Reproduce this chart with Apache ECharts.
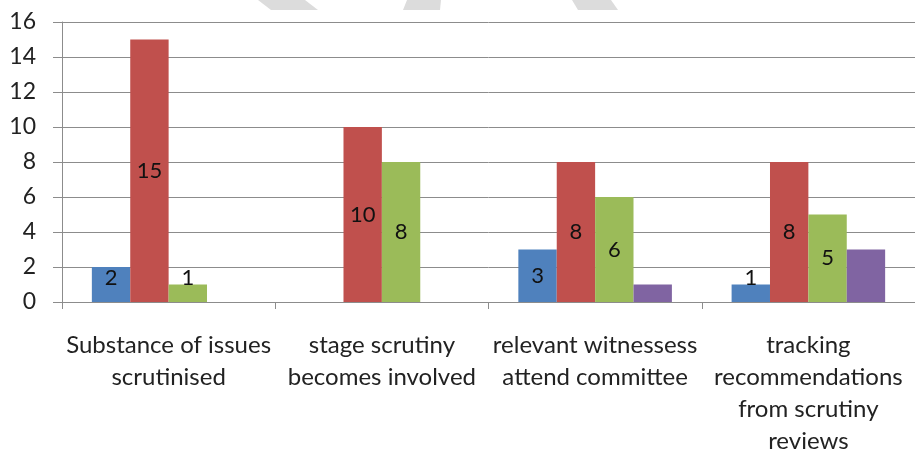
<!DOCTYPE html>
<html>
<head>
<meta charset="utf-8">
<script src="https://cdn.jsdelivr.net/npm/echarts@6/dist/echarts.min.js"></script>
<style>
html,body{margin:0;padding:0;background:#fff;}
#c{width:915px;height:457px;}
</style>
</head>
<body>
<div id="c"></div>
<script>
var categories = [
  "Substance of issues\nscrutinised",
  "stage scrutiny\nbecomes involved",
  "relevant witnessess\nattend committee",
  "tracking\nrecommendations\nfrom scrutiny\nreviews"
];
var seriesBlue = [2, 0, 3, 1];
var seriesRed = [15, 10, 8, 8];
var seriesGreen = [1, 8, 6, 5];
var seriesPurple = [0, 0, 1, 3];
var yTicks = { min: 0, max: 16, interval: 2 };

var colors = ["#4F81BD", "#C0504D", "#9BBB59", "#8064A2"];
var font = "Lato, 'Open Sans', sans-serif";

function buildData(values, showLabel) {
  return values.map(function (v) {
    var item = { value: v };
    if (!showLabel || v === 0) {
      item.label = { show: false };
    } else if (v < 3) {
      item.label = { show: true, position: "insideBottom", distance: 13 };
    }
    return item;
  });
}

function makeSeries(values, color, showLabel) {
  return {
    type: "bar",
    data: buildData(values, showLabel),
    itemStyle: { color: color },
    barGap: "0%",
    barCategoryGap: "28%",
    label: {
      show: showLabel,
      position: "inside",
      color: "#111",
      fontFamily: font,
      fontSize: 22
    },
    emphasis: { disabled: true },
    animation: false
  };
}

var chart = echarts.init(document.getElementById("c"));
chart.setOption({
  animation: false,
  grid: { left: 62, right: -3, top: 22, bottom: 151, containLabel: false },
  graphic: [
    { type: "polygon", shape: { points: [[258, 0], [305, 0], [318, 10], [271, 10]] }, style: { fill: "#dcdcdc" }, silent: true },
    { type: "polygon", shape: { points: [[407, 0], [441, 0], [440, 10], [403, 10]] }, style: { fill: "#dcdcdc" }, silent: true },
    { type: "polygon", shape: { points: [[572, 0], [611, 0], [618, 10], [578, 10]] }, style: { fill: "#dcdcdc" }, silent: true }
  ],
  xAxis: {
    type: "category",
    data: categories,
    boundaryGap: true,
    axisLine: { show: true, lineStyle: { color: "#8c8c8c", width: 1 } },
    axisTick: { show: true, length: 7, alignWithLabel: false, lineStyle: { color: "#8c8c8c" } },
    axisLabel: {
      interval: 0,
      margin: 27,
      color: "#222",
      fontFamily: font,
      fontSize: 24,
      lineHeight: 32,
      align: "center"
    },
    splitLine: { show: false }
  },
  yAxis: {
    type: "value",
    min: yTicks.min,
    max: yTicks.max,
    interval: yTicks.interval,
    axisLine: { show: true, lineStyle: { color: "#8c8c8c", width: 1 } },
    axisTick: { show: true, length: 9, lineStyle: { color: "#8c8c8c" } },
    axisLabel: {
      margin: 26,
      color: "#222",
      fontFamily: font,
      fontSize: 23
    },
    splitLine: { show: true, lineStyle: { color: "#8c8c8c", width: 1 } }
  },
  series: [
    makeSeries(seriesBlue, colors[0], true),
    makeSeries(seriesRed, colors[1], true),
    makeSeries(seriesGreen, colors[2], true),
    makeSeries(seriesPurple, colors[3], false)
  ]
});
</script>
</body>
</html>
